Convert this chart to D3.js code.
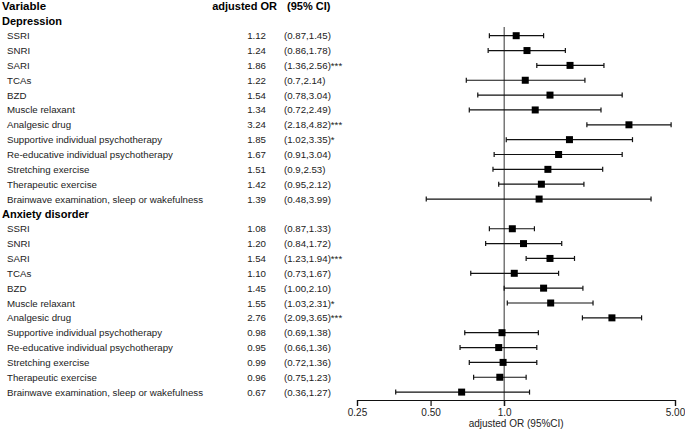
<!DOCTYPE html>
<html>
<head>
<meta charset="utf-8">
<script src="https://cdn.jsdelivr.net/npm/d3@7"></script>
<style>
  html, body { margin: 0; padding: 0; background: #fff; }
  svg { display: block; font-family: "Liberation Sans", Arial, sans-serif; }
</style>
</head>
<body>
<svg id="chart" width="685" height="434"></svg>
<script>
const variables = ["SSRI", "SNRI", "SARI", "TCAs", "BZD", "Muscle relaxant", "Analgesic drug",
  "Supportive individual psychotherapy", "Re-educative individual psychotherapy",
  "Stretching exercise", "Therapeutic exercise", "Brainwave examination, sleep or wakefulness"];
const groupNames = ["Depression", "Anxiety disorder"];

const depOR  = ["1.12", "1.24", "1.86", "1.22", "1.54", "1.34", "3.24", "1.85", "1.67", "1.51", "1.42", "1.39"];
const depLo  = ["0.87", "0.86", "1.36", "0.7", "0.78", "0.72", "2.18", "1.02", "0.91", "0.9", "0.95", "0.48"];
const depHi  = ["1.45", "1.78", "2.56", "2.14", "3.04", "2.49", "4.82", "3.35", "3.04", "2.53", "2.12", "3.99"];
const depSig = ["", "", "***", "", "", "", "***", "*", "", "", "", ""];

const anxOR  = ["1.08", "1.20", "1.54", "1.10", "1.45", "1.55", "2.76", "0.98", "0.95", "0.99", "0.96", "0.67"];
const anxLo  = ["0.87", "0.84", "1.23", "0.73", "1.00", "1.03", "2.09", "0.69", "0.66", "0.72", "0.75", "0.36"];
const anxHi  = ["1.33", "1.72", "1.94", "1.67", "2.10", "2.31", "3.65", "1.38", "1.36", "1.36", "1.23", "1.27"];
const anxSig = ["", "", "***", "", "", "*", "***", "", "", "", "", ""];

const tickValues = [0.25, 0.5, 1.0, 5.0];
const tickLabels = ["0.25", "0.50", "1.0", "5.00"];

// Build rows
const rows = [];
rows.push({type: "header"});
[[depOR, depLo, depHi, depSig], [anxOR, anxLo, anxHi, anxSig]].forEach((g, gi) => {
  rows.push({type: "group", name: groupNames[gi]});
  variables.forEach((v, i) => {
    rows.push({type: "item", name: v, orText: g[0][i], lo: g[1][i], hi: g[2][i], sig: g[3][i],
      or: +g[0][i], loV: +g[1][i], hiV: +g[2][i]});
  });
});

const svg = d3.select("#chart");
const y = d3.scaleLinear().domain([0, rows.length - 1]).range([6, 6 + (rows.length - 1) * 14.85]);
const x = d3.scaleLog().domain([0.25, 5]).range([357, 675]);
const axisY = 400;

const fs = 9.7;
const txt = "#222";
rows.forEach((r, i) => {
  const cy = y(i);
  if (r.type === "header") {
    svg.append("text").attr("x", 2).attr("y", cy + 4).attr("font-size", 11.5).attr("font-weight", "bold").text("Variable");
    svg.append("text").attr("x", 277).attr("y", cy + 4).attr("font-size", 11).attr("font-weight", "bold").attr("text-anchor", "end").text("adjusted OR");
    svg.append("text").attr("x", 287).attr("y", cy + 4).attr("font-size", 11).attr("font-weight", "bold").text("(95% CI)");
  } else if (r.type === "group") {
    svg.append("text").attr("x", 2).attr("y", cy + 4).attr("font-size", 11).attr("font-weight", "bold").text(r.name);
  } else {
    svg.append("text").attr("x", 7).attr("y", cy + 3.5).attr("font-size", fs).attr("fill", txt).text(r.name);
    svg.append("text").attr("x", 266).attr("y", cy + 3.5).attr("font-size", fs).attr("fill", txt).attr("text-anchor", "end").text(r.orText);
    svg.append("text").attr("x", 284).attr("y", cy + 3.5).attr("font-size", fs).attr("fill", txt).text("(" + r.lo + "," + r.hi + ")" + r.sig);
  }
});

// reference line at 1
svg.append("line").attr("x1", x(1)).attr("x2", x(1)).attr("y1", 27).attr("y2", axisY + 6)
  .attr("stroke", "#333").attr("stroke-width", 1);

const items = rows.map((r, i) => Object.assign({idx: i}, r)).filter(r => r.type === "item");
const g = svg.append("g");
g.selectAll("line.ci").data(items).join("line")
  .attr("x1", d => x(d.loV)).attr("x2", d => x(d.hiV))
  .attr("y1", d => y(d.idx)).attr("y2", d => y(d.idx))
  .attr("stroke", "#111").attr("stroke-width", 1.2);
["loV", "hiV"].forEach(k => {
  g.selectAll("line.cap" + k).data(items).join("line")
    .attr("x1", d => x(d[k])).attr("x2", d => x(d[k]))
    .attr("y1", d => y(d.idx) - 2.5).attr("y2", d => y(d.idx) + 2.5)
    .attr("stroke", "#111").attr("stroke-width", 1.2);
});
g.selectAll("rect.pt").data(items).join("rect")
  .attr("x", d => x(d.or) - 3.5).attr("y", d => y(d.idx) - 3.5)
  .attr("width", 7).attr("height", 7).attr("fill", "#000");

// axis
const axis = d3.axisBottom(x).tickValues(tickValues).tickFormat((d, i) => tickLabels[i]).tickSizeOuter(0).tickSize(6);
const ag = svg.append("g").attr("transform", `translate(0,${axisY})`).call(axis);
ag.select(".domain").attr("stroke", "#111").attr("stroke-width", 1.2);
ag.selectAll(".tick line").attr("stroke", "#111").attr("stroke-width", 1.2);
ag.selectAll(".tick text").attr("font-size", 10).attr("fill", txt).attr("y", 9).attr("font-family", "Liberation Sans, Arial, sans-serif");

svg.append("text").attr("x", x(1.0) + 12).attr("y", 427).attr("text-anchor", "middle")
  .attr("font-size", 10).attr("fill", txt).text("adjusted OR (95%CI)");
</script>
</body>
</html>
